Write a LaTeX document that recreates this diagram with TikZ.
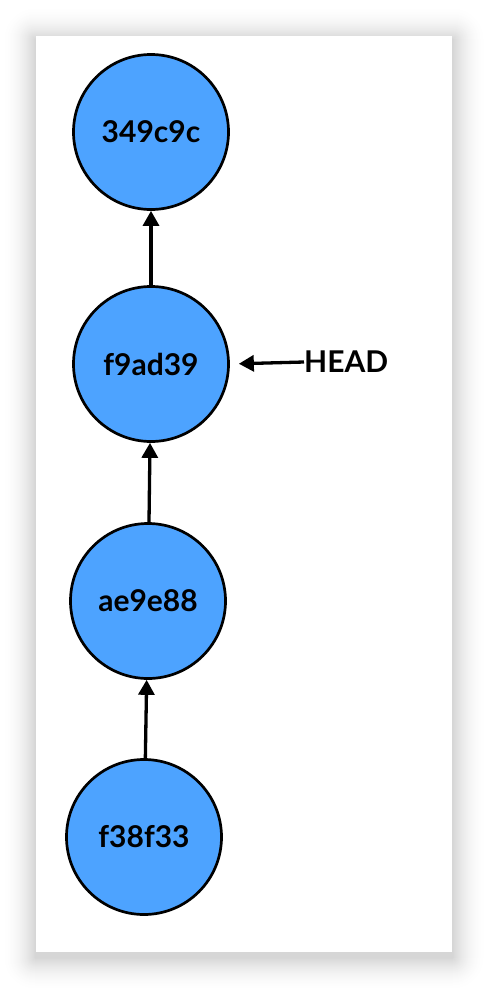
\documentclass[tikz,border=0pt]{standalone}
\usepackage{fontspec}
\setmainfont{Lato}
\usetikzlibrary{arrows.meta}
\definecolor{commit}{RGB}{77,163,255}
\begin{document}
\begin{tikzpicture}[x=1pt,y=-1pt,
  commitnode/.style={circle,draw=black,line width=2.7pt,fill=commit,minimum size=155pt,inner sep=0pt,
    font=\fontsize{30}{32}\selectfont\bfseries},
  link/.style={line width=3.3pt,-{Triangle[length=15pt,width=16pt]}},
  headlabel/.style={inner sep=0pt,anchor=west,font=\fontsize{30}{32}\selectfont\bfseries}]
\useasboundingbox (0,0) rectangle (488,988);
\fill[white] (0,0) rectangle (488,988);
\foreach \i in {34,33,...,1}{
  \pgfmathsetmacro\d{\i*1.0}
  \pgfmathsetmacro\k{17*(1-\i/35)^2}
  \fill[black!\k,rounded corners=\d pt] (36-\d, 40-\d) rectangle (452+\d, 957+\d);
}
\fill[white] (36,36) rectangle (452,952);
\node[commitnode] (c1) at (151,132) {349c9c};
\node[commitnode] (c2) at (151,364) {f9ad39};
\node[commitnode] (c3) at (148,601) {ae9e88};
\node[commitnode] (c4) at (144,837) {f38f33};
\node[headlabel] (head) at (304,362) {HEAD};
\draw[link] (c2) -- (c1);
\draw[link] (c3) -- (c2);
\draw[link] (c4) -- (c3);
\draw[link,shorten >=9pt] (head.west) -- (c2.east);
\end{tikzpicture}
\end{document}
